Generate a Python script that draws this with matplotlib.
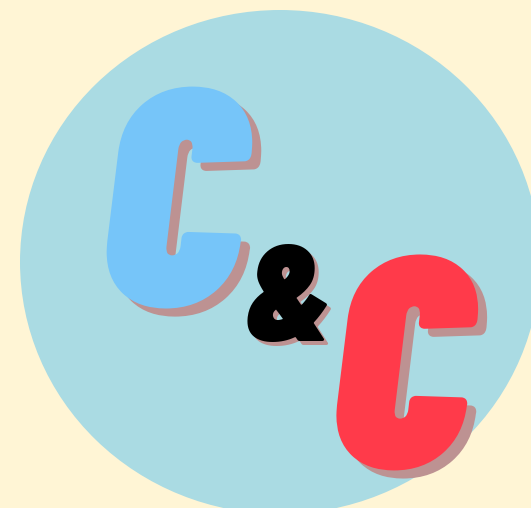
import matplotlib.pyplot as plt
from matplotlib.patches import Ellipse
import matplotlib.patheffects as pe

# logo content
letters = ['C', '&', 'C']
letter_colors = ['#76C5F9', '#000000', '#FF3A4A']

bg_color = '#FFF5D5'
circle_color = '#AADBE3'
shadow_color = '#BD9292'

W, H = 531, 508
fig = plt.figure(figsize=(W / 100, H / 100), dpi=100)
fig.patch.set_facecolor(bg_color)
ax = fig.add_axes([0, 0, 1, 1])
ax.set_xlim(0, W)
ax.set_ylim(H, 0)
ax.axis('off')

ax.add_patch(Ellipse((280, 262), 520, 504, color=circle_color, lw=0))

# x centre, baseline, font size, shadow offset, stroke width
pos = [(172, 304, 219, 9, 3), (287, 341, 98, 4, 0), (400, 466, 213, 9, 3)]

for txt, col, (x, y, fs, off, sw) in zip(letters, letter_colors, pos):
    kw = dict(fontsize=fs, ha='center', va='baseline',
              family=['Barlow Condensed', 'Roboto', 'DejaVu Sans'],
              fontweight=900, style='italic')
    fx = [pe.withStroke(linewidth=sw, foreground=shadow_color)] if sw else None
    ax.text(x + off, y + off * 0.9, txt, color=shadow_color, path_effects=fx, **kw)
    fx = [pe.withStroke(linewidth=sw, foreground=col)] if sw else None
    ax.text(x, y, txt, color=col, path_effects=fx, **kw)

plt.savefig('out.png', dpi=100, facecolor=bg_color)
